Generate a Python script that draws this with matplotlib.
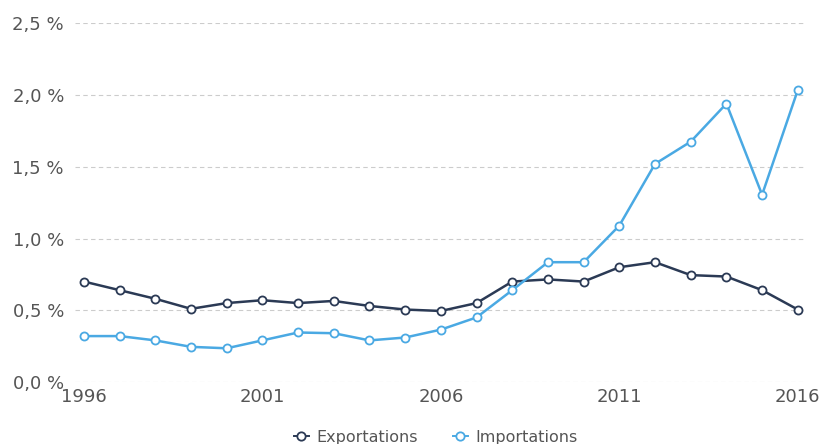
import matplotlib
matplotlib.use("Agg")
import matplotlib.pyplot as plt
from matplotlib.ticker import FuncFormatter

years = list(range(1996, 2017))
exportations = [0.70, 0.64, 0.58, 0.51, 0.55, 0.57, 0.55, 0.565, 0.53, 0.505,
                0.495, 0.55, 0.70, 0.715, 0.70, 0.80, 0.835, 0.745, 0.735, 0.64, 0.505]
importations = [0.32, 0.32, 0.29, 0.245, 0.235, 0.29, 0.345, 0.34, 0.29, 0.31,
                0.365, 0.45, 0.64, 0.835, 0.835, 1.09, 1.52, 1.675, 1.94, 1.305, 2.035]
series_names = ["Exportations", "Importations"]
y_ticks = [0.0, 0.5, 1.0, 1.5, 2.0, 2.5]
x_ticks = [1996, 2001, 2006, 2011, 2016]

colors = ["#2b3a55", "#4aa9e3"]

fig = plt.figure(figsize=(8.2, 4.44), dpi=100)
ax = fig.add_axes([75/820, 1-382/444, (806-75)/820, (382-23.3)/444])

for vals, name, c in zip([exportations, importations], series_names, colors):
    ax.plot(years, vals, color=c, lw=1.8, marker="o", ms=5.8, mfc="white",
            mec=c, mew=1.3, label=name, clip_on=False, zorder=3)

ax.set_xlim(1995.75, 2016.23)
ax.set_ylim(0, 2.5)
ax.set_yticks(y_ticks)
ax.set_xticks(x_ticks)
ax.yaxis.set_major_formatter(FuncFormatter(lambda v, p: f"{v:.1f} %".replace(".", ",")))
ax.grid(axis="y", color="#cccccc", linestyle=(0, (4, 3)), lw=0.8)
for s in ax.spines.values():
    s.set_visible(False)
ax.tick_params(length=0, labelsize=13, labelcolor="#555555")
ax.tick_params(axis="y", pad=8)
ax.tick_params(axis="x", pad=4)

leg = fig.legend(loc="center", bbox_to_anchor=(436/820, 1-437/444), ncol=2,
                 frameon=False, fontsize=11.5, handlelength=0.9, handletextpad=0.5,
                 columnspacing=2.2, labelcolor="#555555")
for h in leg.legend_handles:
    h.set_markersize(6)
    h.set_linewidth(1.4)

fig.savefig("out.png", dpi=100)
